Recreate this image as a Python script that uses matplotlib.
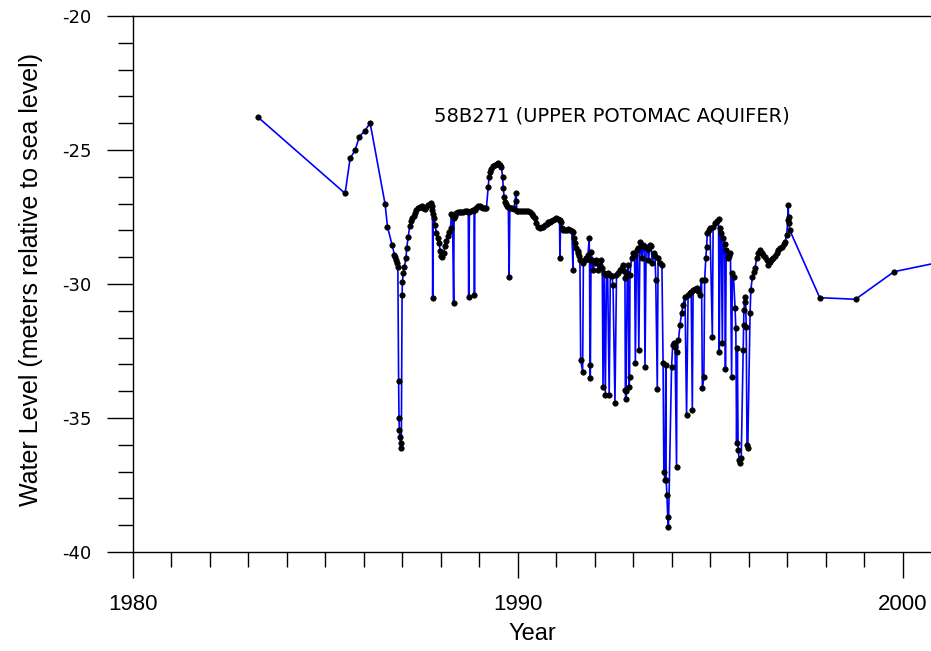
import numpy as np
import matplotlib.pyplot as plt
from matplotlib.ticker import MultipleLocator

plt.rcParams['axes.unicode_minus'] = False

# well 58B271 water levels (decimal year, meters relative to sea level)
years = [
    1983.25, 1985.51, 1985.64, 1985.77, 1985.88, 1986.02, 1986.16, 1986.55, 1986.61, 1986.73,
    1986.79, 1986.81, 1986.83, 1986.85, 1986.88, 1986.90, 1986.91, 1986.92, 1986.93, 1986.95,
    1986.97, 1986.99, 1987.00, 1987.02, 1987.05, 1987.09, 1987.11, 1987.15, 1987.19, 1987.22,
    1987.25, 1987.29, 1987.32, 1987.36, 1987.41, 1987.45, 1987.50, 1987.54, 1987.58, 1987.62,
    1987.67, 1987.71, 1987.74, 1987.77, 1987.78, 1987.785, 1987.80, 1987.82, 1987.85, 1987.88,
    1987.92, 1987.95, 1987.98, 1988.01, 1988.04, 1988.07, 1988.10, 1988.13, 1988.17, 1988.21,
    1988.25, 1988.27, 1988.30, 1988.33, 1988.34, 1988.37, 1988.40, 1988.45, 1988.49, 1988.53,
    1988.57, 1988.62, 1988.67, 1988.71, 1988.72, 1988.74, 1988.78, 1988.82, 1988.86, 1988.87,
    1988.88, 1988.92, 1988.97, 1989.01, 1989.05, 1989.10, 1989.14, 1989.18, 1989.23, 1989.25,
    1989.27, 1989.31, 1989.36, 1989.40, 1989.45, 1989.49, 1989.53, 1989.57, 1989.60, 1989.62,
    1989.64, 1989.66, 1989.69, 1989.72, 1989.75, 1989.77, 1989.79, 1989.82, 1989.86, 1989.90,
    1989.95, 1989.96, 1989.97, 1990.01, 1990.05, 1990.10, 1990.15, 1990.20, 1990.26, 1990.31,
    1990.36, 1990.40, 1990.44, 1990.48, 1990.53, 1990.58, 1990.62, 1990.66, 1990.71, 1990.75,
    1990.79, 1990.83, 1990.87, 1990.91, 1990.96, 1991.00, 1991.04, 1991.08, 1991.09, 1991.11,
    1991.14, 1991.18, 1991.22, 1991.27, 1991.31, 1991.36, 1991.40, 1991.43, 1991.44, 1991.46,
    1991.48, 1991.52, 1991.55, 1991.57, 1991.59, 1991.61, 1991.63, 1991.68, 1991.70, 1991.74,
    1991.78, 1991.82, 1991.85, 1991.86, 1991.87, 1991.88, 1991.90, 1991.93, 1991.95, 1991.99,
    1992.04, 1992.09, 1992.13, 1992.17, 1992.19, 1992.21, 1992.24, 1992.27, 1992.30, 1992.33,
    1992.37, 1992.40, 1992.44, 1992.47, 1992.52, 1992.56, 1992.60, 1992.65, 1992.69, 1992.72,
    1992.76, 1992.78, 1992.79, 1992.80, 1992.81, 1992.84, 1992.86, 1992.89, 1992.90, 1992.91,
    1992.95, 1992.99, 1993.03, 1993.05, 1993.08, 1993.11, 1993.14, 1993.17, 1993.20, 1993.22,
    1993.25, 1993.28, 1993.30, 1993.33, 1993.37, 1993.39, 1993.43, 1993.46, 1993.49, 1993.53,
    1993.56, 1993.58, 1993.62, 1993.64, 1993.69, 1993.74, 1993.77, 1993.79, 1993.82, 1993.84,
    1993.85, 1993.87, 1993.89, 1993.91, 1993.99, 1994.02, 1994.05, 1994.08, 1994.12, 1994.13,
    1994.17, 1994.21, 1994.25, 1994.29, 1994.34, 1994.38, 1994.42, 1994.47, 1994.50, 1994.53,
    1994.55, 1994.60, 1994.64, 1994.69, 1994.73, 1994.77, 1994.79, 1994.83, 1994.85, 1994.88,
    1994.90, 1994.92, 1994.96, 1994.99, 1995.05, 1995.07, 1995.12, 1995.17, 1995.21, 1995.23,
    1995.25, 1995.28, 1995.31, 1995.33, 1995.37, 1995.39, 1995.41, 1995.45, 1995.49, 1995.52,
    1995.55, 1995.57, 1995.60, 1995.64, 1995.66, 1995.68, 1995.70, 1995.72, 1995.75, 1995.78,
    1995.80, 1995.85, 1995.86, 1995.87, 1995.89, 1995.91, 1995.93, 1995.95, 1995.97, 1996.03,
    1996.05, 1996.09, 1996.13, 1996.16, 1996.20, 1996.24, 1996.29, 1996.33, 1996.37, 1996.42,
    1996.46, 1996.50, 1996.55, 1996.59, 1996.63, 1996.68, 1996.72, 1996.76, 1996.80, 1996.85,
    1996.90, 1996.94, 1996.98, 1997.01, 1997.02, 1997.03, 1997.04, 1997.06, 1997.84, 1998.77,
    1999.77, 2000.85,
]
levels = [
    -23.78, -26.62, -25.31, -25.01, -24.50, -24.29, -23.99, -27.03, -27.86, -28.54,
    -28.90, -28.98, -29.10, -29.23, -29.35, -33.62, -35.01, -35.45, -35.70, -35.94,
    -36.11, -30.41, -29.91, -29.60, -29.35, -29.04, -28.67, -28.23, -27.84, -27.65,
    -27.55, -27.45, -27.36, -27.25, -27.18, -27.12, -27.09, -27.15, -27.21, -27.12,
    -27.05, -27.00, -26.99, -27.10, -27.24, -30.53, -27.40, -27.55, -27.80, -28.11,
    -28.30, -28.48, -28.75, -28.95, -29.00, -28.85, -28.60, -28.40, -28.20, -28.05,
    -27.92, -27.40, -27.50, -30.72, -27.55, -27.45, -27.36, -27.33, -27.31, -27.30,
    -27.30, -27.29, -27.28, -27.30, -30.50, -27.30, -27.27, -27.25, -27.24, -30.42,
    -27.24, -27.15, -27.10, -27.09, -27.12, -27.16, -27.18, -27.18, -26.37, -26.00,
    -25.81, -25.70, -25.60, -25.55, -25.52, -25.50, -25.55, -25.62, -26.00, -26.43,
    -26.75, -26.93, -27.02, -27.08, -27.12, -29.73, -27.15, -27.17, -27.18, -27.20,
    -26.59, -26.90, -27.28, -27.28, -27.26, -27.27, -27.28, -27.28, -27.29, -27.30,
    -27.38, -27.47, -27.55, -27.72, -27.89, -27.90, -27.88, -27.86, -27.80, -27.75,
    -27.70, -27.67, -27.64, -27.60, -27.57, -27.55, -27.57, -27.60, -29.04, -27.70,
    -27.90, -27.99, -28.00, -27.97, -27.96, -27.98, -28.02, -29.48, -28.05, -28.30,
    -28.48, -28.65, -28.78, -28.86, -28.95, -29.10, -32.84, -33.27, -29.23, -29.10,
    -29.04, -28.90, -28.30, -29.10, -33.02, -33.52, -28.79, -29.10, -29.48, -29.20,
    -29.10, -29.48, -29.30, -29.10, -29.40, -33.83, -29.60, -34.14, -29.66, -29.60,
    -34.14, -29.66, -29.70, -30.04, -34.43, -29.66, -29.58, -29.48, -29.40, -29.29,
    -29.50, -29.79, -33.96, -34.30, -34.00, -29.60, -29.29, -33.83, -33.46, -29.66,
    -29.04, -28.86, -28.90, -32.94, -28.73, -28.65, -32.46, -28.42, -28.60, -29.04,
    -28.54, -28.58, -33.09, -28.61, -28.70, -29.10, -28.54, -28.60, -29.23, -28.86,
    -28.95, -29.85, -33.90, -29.04, -29.23, -29.30, -32.96, -37.00, -37.31, -33.02,
    -37.31, -37.87, -38.68, -39.06, -33.09, -32.28, -32.20, -32.34, -36.82, -32.53,
    -32.09, -31.53, -31.09, -30.78, -30.47, -34.89, -30.41, -30.35, -30.30, -34.70,
    -30.22, -30.18, -30.16, -30.25, -30.41, -29.85, -33.89, -33.46, -29.85, -29.04,
    -28.61, -28.11, -28.00, -27.92, -31.97, -27.86, -27.74, -27.65, -27.59, -32.53,
    -27.92, -28.10, -32.21, -28.30, -28.50, -33.18, -28.73, -29.04, -28.95, -28.86,
    -33.46, -29.60, -29.73, -30.91, -31.66, -35.94, -32.40, -36.19, -36.57, -36.69,
    -36.50, -32.46, -31.53, -30.97, -30.66, -30.47, -31.59, -36.00, -36.13, -31.09,
    -30.22, -29.73, -29.55, -29.41, -29.04, -28.85, -28.73, -28.85, -28.92, -29.00,
    -29.10, -29.30, -29.17, -29.05, -29.04, -28.95, -28.85, -28.73, -28.67, -28.61,
    -28.50, -28.42, -28.17, -27.61, -27.05, -27.50, -27.74, -27.99, -30.51, -30.57,
    -29.54, -29.22,
]

fig = plt.figure(figsize=(9.31, 6.51), dpi=100)
ax = fig.add_axes([133/931, 1-552/651, 798/931, 536/651])

ax.plot(years, levels, color='#0000ff', lw=1.2, marker='o', ms=3.9,
        mfc='black', mec='black', mew=0.5, zorder=3)

ax.set_xlim(1980, 2000.73)
ax.set_ylim(-40, -20)
ax.xaxis.set_major_locator(MultipleLocator(10))
ax.xaxis.set_minor_locator(MultipleLocator(1))
ax.yaxis.set_major_locator(MultipleLocator(5))
ax.yaxis.set_minor_locator(MultipleLocator(1))

ax.spines['right'].set_visible(False)
for s in ['left', 'bottom', 'top']:
    ax.spines[s].set_linewidth(1.0)
ax.tick_params(which='major', direction='out', length=19, width=1.0)
ax.tick_params(which='minor', direction='out', length=10.5, width=1.0)
ax.tick_params(axis='x', which='major', pad=11, labelsize=16)
ax.tick_params(axis='y', which='major', pad=11, labelsize=13)
for lab in ax.get_xticklabels():
    lab.set_family('Liberation Sans')
for lab in ax.get_yticklabels():
    lab.set_family('DejaVu Sans')

ax.set_xlabel('Year', family='Liberation Sans', fontsize=17, labelpad=6)
ax.set_ylabel('Water Level (meters relative to sea level)', family='Liberation Sans',
              fontsize=18)
ax.yaxis.set_label_coords(-90/798, (552-280)/536)

ax.text(1992.45, -23.73, '58B271 (UPPER POTOMAC AQUIFER)', family='DejaVu Sans',
        fontsize=14, ha='center', va='center')

fig.savefig('out.png', dpi=100)
